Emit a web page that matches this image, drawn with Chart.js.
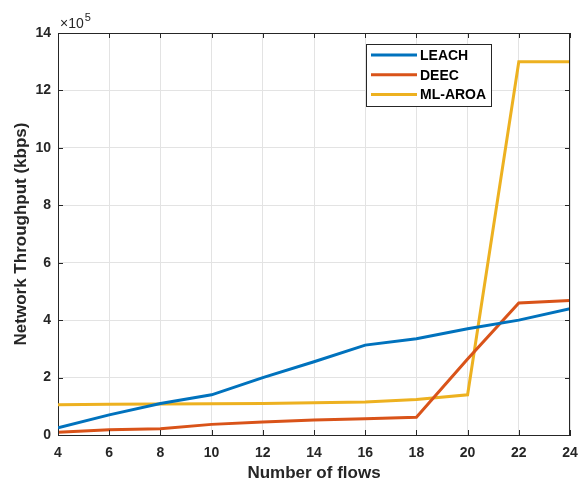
<!DOCTYPE html>
<html>
<head>
<meta charset="utf-8">
<script src="https://cdn.jsdelivr.net/npm/chart.js@4.4.1/dist/chart.umd.min.js"></script>
<style>
  html, body { margin: 0; padding: 0; background: #fff; }
  #wrap { width: 581px; height: 481px; }
</style>
</head>
<body>
<div id="wrap"><canvas id="throughputChart"></canvas></div>
<script>
var flows = [4, 6, 8, 10, 12, 14, 16, 18, 20, 22, 24];

// network throughput in kbps
var leach  = [25000, 70000, 110000, 140000, 200000, 255000, 313000, 335000, 370000, 400000, 440000];
var deec   = [10000, 18000, 22000, 37000, 45000, 52000, 57000, 62000, 265000, 460000, 468000];
var mlAroa = [105000, 107000, 108000, 109000, 110000, 112000, 115000, 124000, 140000, 1300000, 1300000];

var seriesNames = ['LEACH', 'DEEC', 'ML-AROA'];
var seriesColors = ['#0072BD', '#D95319', '#EDB120'];

var yTicks = [0, 2, 4, 6, 8, 10, 12, 14];
var xTicks = [4, 6, 8, 10, 12, 14, 16, 18, 20, 22, 24];

var axisColor = '#262626';
var fontFamily = 'Arial, "Liberation Sans", sans-serif';

function toPoints(values) {
    return values.map(function (v, i) { return { x: flows[i], y: v }; });
}

var matlabBox = {
    id: 'matlabBox',
    afterDraw: function (chart) {
        var c = chart.ctx;
        var a = chart.chartArea;
        var xs = chart.scales.x, ys = chart.scales.y;
        c.save();

        // box and inward ticks
        c.strokeStyle = axisColor;
        c.lineWidth = 1;
        c.beginPath();
        c.moveTo(a.left, a.top + 0.5);
        c.lineTo(a.right, a.top + 0.5);
        c.moveTo(a.right - 0.5, a.top);
        c.lineTo(a.right - 0.5, a.bottom);
        xTicks.forEach(function (t) {
            var px = Math.round(xs.getPixelForValue(t)) + 0.5;
            c.moveTo(px, a.bottom); c.lineTo(px, a.bottom - 5);
            c.moveTo(px, a.top); c.lineTo(px, a.top + 5);
        });
        yTicks.forEach(function (t) {
            var py = Math.round(ys.getPixelForValue(t * 1e5)) + 0.5;
            c.moveTo(a.left, py); c.lineTo(a.left + 5, py);
            c.moveTo(a.right, py); c.lineTo(a.right - 5, py);
        });
        c.stroke();

        // exponent label
        c.fillStyle = axisColor;
        c.textBaseline = 'alphabetic';
        c.textAlign = 'left';
        c.font = '14px ' + fontFamily;
        c.fillText('\u00d710', a.left + 2, 28);
        var w = c.measureText('\u00d710').width;
        c.font = '11px ' + fontFamily;
        c.fillText('5', a.left + 2 + w + 1, 21);

        // legend
        var lx = 366, ly = 44, lw = 125, lh = 62;
        c.fillStyle = '#fff';
        c.fillRect(lx, ly, lw, lh);
        c.strokeStyle = axisColor;
        c.strokeRect(lx + 0.5, ly + 0.5, lw, lh);
        c.font = 'bold 14px ' + fontFamily;
        c.textBaseline = 'middle';
        chart.data.datasets.forEach(function (ds, i) {
            var ry = ly + 11 + i * 19.7;
            c.strokeStyle = ds.borderColor;
            c.lineWidth = 3;
            c.beginPath();
            c.moveTo(lx + 5, ry);
            c.lineTo(lx + 51, ry);
            c.stroke();
            c.fillStyle = '#000';
            c.fillText(ds.label, lx + 54, ry + 1);
        });
        c.restore();
    }
};

new Chart(document.getElementById('throughputChart').getContext('2d'), {
    type: 'line',
    data: {
        datasets: [
            { label: seriesNames[0], data: toPoints(leach),  borderColor: seriesColors[0] },
            { label: seriesNames[1], data: toPoints(deec),   borderColor: seriesColors[1] },
            { label: seriesNames[2], data: toPoints(mlAroa), borderColor: seriesColors[2] }
        ]
    },
    options: {
        responsive: true,
        maintainAspectRatio: false,
        animation: false,
        devicePixelRatio: 1,
        layout: { padding: { top: 33, right: 11, left: 0, bottom: 0 } },
        elements: {
            line: { borderWidth: 3, tension: 0, fill: false },
            point: { radius: 0, hoverRadius: 0 }
        },
        plugins: {
            legend: { display: false },
            tooltip: { enabled: false }
        },
        scales: {
            x: {
                type: 'linear',
                min: 4,
                max: 24,
                afterFit: function (s) {
                    s.height = 46;
                    s.paddingLeft = 0;
                    s.paddingRight = 0;
                },
                afterBuildTicks: function (s) {
                    s.ticks = xTicks.map(function (v) { return { value: v }; });
                },
                grid: { color: '#e3e3e3', drawTicks: false },
                border: { color: axisColor, width: 1 },
                ticks: {
                    color: axisColor,
                    padding: 10,
                    maxRotation: 0,
                    font: { family: fontFamily, size: 14, weight: 'bold' }
                },
                title: {
                    display: true,
                    text: 'Number of flows',
                    color: axisColor,
                    padding: { top: 0, bottom: -3 },
                    font: { family: fontFamily, size: 17, weight: 'bold' }
                }
            },
            y: {
                min: 0,
                max: 1400000,
                afterFit: function (s) { s.width = 58; },
                afterBuildTicks: function (s) {
                    s.ticks = yTicks.map(function (v) { return { value: v * 1e5 }; });
                },
                grid: { color: '#e3e3e3', drawTicks: false },
                border: { color: axisColor, width: 1 },
                ticks: {
                    color: axisColor,
                    padding: 7,
                    font: { family: fontFamily, size: 14, weight: 'bold' },
                    callback: function (value) { return Math.round(value / 1e5); }
                },
                title: {
                    display: true,
                    text: 'Network Throughput (kbps)',
                    color: axisColor,
                    padding: { top: 11, bottom: 0 },
                    font: { family: fontFamily, size: 17, weight: 'bold' }
                }
            }
        }
    },
    plugins: [matlabBox]
});
</script>
</body>
</html>
